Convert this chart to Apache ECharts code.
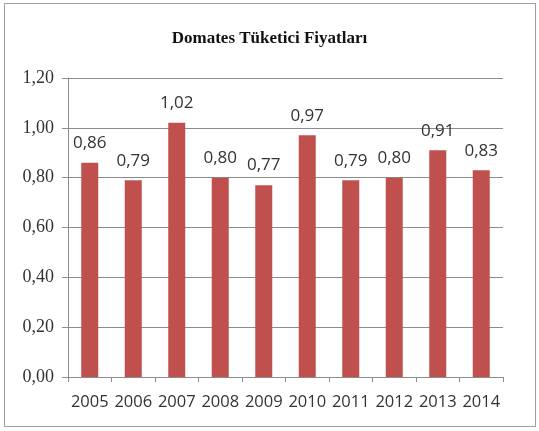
<!DOCTYPE html>
<html><head><meta charset="utf-8">
<script src="https://cdn.jsdelivr.net/npm/echarts@6/dist/echarts.min.js"></script>
<style>html,body{margin:0;padding:0;background:#fff}#c{width:539px;height:431px;position:relative}
#b{position:absolute;left:4px;top:3px;width:532px;height:424px;border:1px solid #a0a0a0;box-sizing:border-box;pointer-events:none}</style>
</head><body><div id="c"></div><div id="b"></div>
<script>
const titleText = 'Domates Tüketici Fiyatları';
const years = ['2005','2006','2007','2008','2009','2010','2011','2012','2013','2014'];
const prices = [0.86, 0.79, 1.02, 0.80, 0.77, 0.97, 0.79, 0.80, 0.91, 0.83];
const fmt = v => v.toFixed(2).replace('.', ',');
const chart = echarts.init(document.getElementById('c'));
chart.setOption({
  animation: false,
  title: { text: titleText, left: 'center', top: 25, textStyle: { fontFamily: 'Liberation Serif', fontWeight: 'bold', fontSize: 17, color: '#111' } },
  grid: { left: 68, right: 36, top: 78, bottom: 54 },
  xAxis: { type: 'category', data: years,
    axisLine: { lineStyle: { color: '#8c8c8c' } },
    axisTick: { show: true, length: 5, lineStyle: { color: '#8c8c8c' } },
    axisLabel: { interval: 0, hideOverlap: false, fontFamily: 'Open Sans', fontSize: 16.5, color: '#333', margin: 17 } },
  yAxis: { type: 'value', min: 0, max: 1.2, interval: 0.2,
    axisLine: { show: true, lineStyle: { color: '#8c8c8c' } },
    axisTick: { show: true, length: 6, lineStyle: { color: '#8c8c8c' } },
    splitLine: { lineStyle: { color: '#8c8c8c' } },
    axisLabel: { fontFamily: 'Liberation Serif', fontSize: 18, color: '#333', margin: 14, formatter: fmt } },
  series: [{ type: 'bar', data: prices, barWidth: 17,
    itemStyle: { color: '#C0504D' },
    label: { show: true, position: 'top', distance: 11, fontFamily: 'Open Sans', fontSize: 17, color: '#333', formatter: p => fmt(p.value) } }]
});
</script></body></html>
